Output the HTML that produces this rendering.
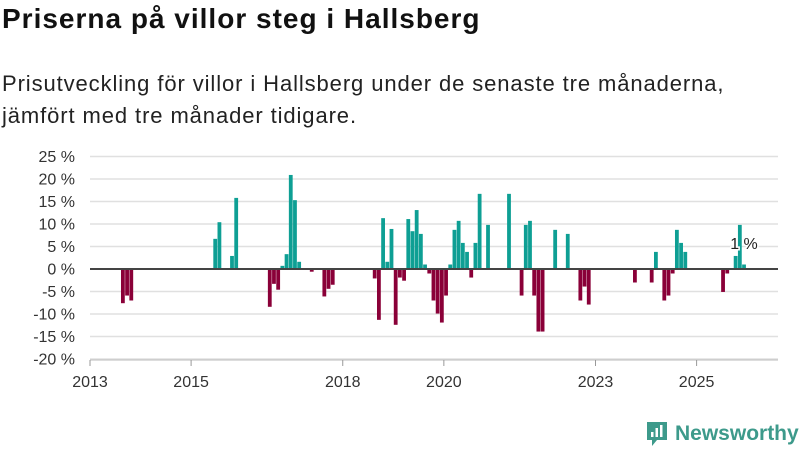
<!DOCTYPE html>
<html><head><meta charset="utf-8"><style>
body{margin:0;width:800px;height:450px;background:#fff;font-family:"Liberation Sans",sans-serif;overflow:hidden;position:relative}
#t{position:absolute;left:2px;top:3px;font-size:28px;letter-spacing:1px;font-weight:bold;color:#111}
#s{position:absolute;left:2px;top:68px;font-size:22px;letter-spacing:0.9px;line-height:32px;color:#222}
svg{position:absolute;left:0;top:0}
</style></head><body>
<div id="t">Priserna på villor steg i Hallsberg</div>
<div id="s">Prisutveckling för villor i Hallsberg under de senaste tre månaderna,<br>jämfört med tre månader tidigare.</div>
<svg id="c" width="800" height="450"></svg>
<script>
const months=[7,8,9,29,30,33,34,42,43,44,45,46,47,48,49,52,55,56,57,67,68,69,70,71,72,73,74,75,76,77,78,79,80,81,82,83,84,85,86,87,88,89,90,91,92,94,99,102,103,104,105,106,107,110,113,116,117,118,129,133,134,136,137,138,139,140,141,150,151,153,154,155];
const values=[-7.6,-5.9,-7.0,6.7,10.4,2.9,15.8,-8.4,-3.3,-4.6,0.7,3.3,20.9,15.3,1.6,-0.6,-6.1,-4.4,-3.5,-2.1,-11.3,11.3,1.6,8.9,-12.4,-1.9,-2.6,11.1,8.4,13.1,7.8,1.0,-1.0,-7.0,-9.9,-11.9,-5.9,1.0,8.7,10.7,5.8,3.8,-1.9,5.8,16.7,9.8,16.7,-5.9,9.8,10.7,-5.9,-13.9,-13.9,8.7,7.8,-7.0,-3.9,-7.9,-3.0,-3.0,3.8,-7.0,-5.9,-1.0,8.7,5.8,3.8,-5.1,-1.0,2.9,9.8,1.0];
const yTicks=[25,20,15,10,5,0,-5,-10,-15,-20];
const xTicks=[2013,2015,2018,2020,2023,2025];
const NS="http://www.w3.org/2000/svg",svg=document.getElementById('c');
const y=v=>269-v*4.5, xm=m=>93.6+m*4.197, xy=yr=>90+(yr-2013)*50.55;
function el(t,a,txt){const e=document.createElementNS(NS,t);for(const k in a)e.setAttribute(k,a[k]);if(txt!=null)e.textContent=txt;svg.appendChild(e);return e;}
yTicks.forEach(v=>{
 const g=el('line',{x1:90,x2:778,y1:y(v),y2:y(v),stroke:'#e0e0e0','stroke-width':1.5});
 
 
 const t=el('text',{x:75,y:y(v)+5.5,'text-anchor':'end','font-size':16,fill:'#333'},v+' %');
 
 
});
months.forEach((m,i)=>{
 const v=values[i];
 const r=el('rect',{x:xm(m)-2,y:Math.min(y(v),y(0)),width:3.8,height:Math.abs(y(v)-y(0)),fill:v>=0?'#0e9f94':'#8a0038'});
 
 
});
const z=el('line',{x1:90,x2:778,y1:y(0),y2:y(0),stroke:'#444','stroke-width':2});


const ax=el('line',{x1:90,x2:778,y1:360,y2:360,stroke:'#bbb','stroke-width':1});


xTicks.forEach(yr=>{
 const tk=el('line',{x1:xy(yr),x2:xy(yr),y1:360,y2:366,stroke:'#999'});
 
 
 const t=el('text',{x:xy(yr),y:387,'text-anchor':'middle','font-size':16,fill:'#333'},yr);
 
 
});
const lb=el('text',{x:744,y:249,'text-anchor':'middle','font-size':16,fill:'#222',stroke:'#fff','stroke-width':3,'paint-order':'stroke'},'1 %');


</script>
<div style="position:absolute;left:645px;top:420px;display:flex;align-items:center">
<svg width="24" height="28" style="position:static"><path d="M2 2h20v18H12l-5 6v-6H2z" fill="#3d9a8b"/><rect x="6" y="12" width="2.5" height="5" fill="#fff"/><rect x="10.5" y="8" width="2.5" height="9" fill="#fff"/><rect x="15" y="5" width="2.5" height="12" fill="#fff"/></svg>
<span style="font-size:21px;font-weight:bold;color:#3d9a8b;margin-left:6px">Newsworthy</span></div>
</body></html>
